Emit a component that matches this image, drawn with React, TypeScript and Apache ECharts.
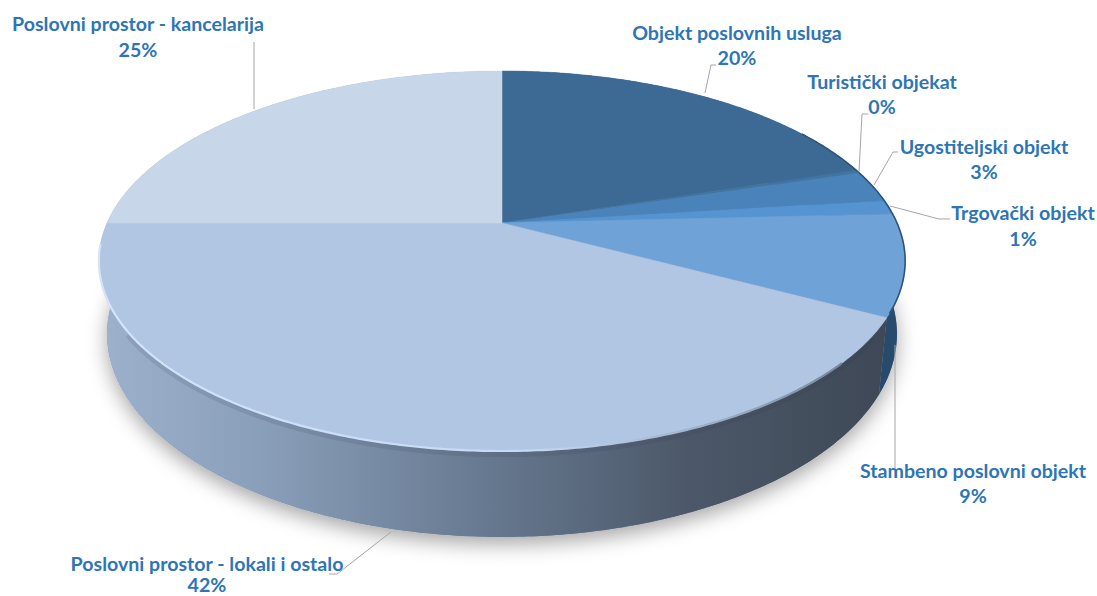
import React, { useEffect, useRef } from "react";
import * as echarts from "echarts";

const categories = [
  "Objekt poslovnih usluga",
  "Turistički objekat",
  "Ugostiteljski objekt",
  "Trgovački objekt",
  "Stambeno poslovni objekt",
  "Poslovni prostor - lokali i ostalo",
  "Poslovni prostor - kancelarija",
];
const shares = [20, 0.3, 2.7, 1.2, 8.6, 42.2, 25];
const faceColors = ["#3c6a94", "#41749f", "#4a83ba", "#5594d0", "#6fa3d7", "#b0c6e3", "#c8d6e9"];
const sideColors = ["#2b4c6c", "#2b4c6c", "#2b4c6c", "#2b4c6c", "#284a6c", "", "#8fa4c0"];

// label placement: centre of the name row, centre of the percentage row, and leader line
const nameCentres = [[737, 32], [882, 81], [984, 146], [1023, 212], [973, 470], [207, 563], [138, 23]];
const percentRows = [57, 106, 171, 238, 495, 584, 49];
const leaders = [
  [[716, 65], [711, 65], [705, 93]],
  [[868, 114], [862, 114], [859, 172]],
  [[898, 152], [893, 152], [874, 185]],
  [[950, 219], [939, 219], [890, 206]],
  [[895, 345], [895, 478]],
  [[329, 574], [337, 574], [391, 532]],
  [[254, 42], [254, 109]],
];

const total = shares.reduce((a, b) => a + b, 0);
const CX = 502, CY = 223, B = 395, A = 182.4, K = 0.2;
const BOTTOM_CY = 293.4, BOTTOM_B = 387, BOTTOM_A = 194.9;

function project(theta: number, bottom: boolean) {
  const s = Math.sin(theta), u = -Math.cos(theta);
  const d = 1 - K * u;
  return bottom
    ? [CX + (BOTTOM_B * s) / d, BOTTOM_CY + (BOTTOM_A * u) / d]
    : [CX + (B * s) / d, CY + (A * u) / d];
}
function arc(a0: number, a1: number, bottom: boolean) {
  const n = Math.max(2, Math.ceil(Math.abs(a1 - a0) / 0.01));
  const pts: number[][] = [];
  for (let i = 0; i <= n; i++) pts.push(project(a0 + ((a1 - a0) * i) / n, bottom));
  return pts;
}
function range(i: number) {
  let sum = 0;
  for (let j = 0; j < i; j++) sum += shares[j];
  return [(sum / total) * 2 * Math.PI, ((sum + shares[i]) / total) * 2 * Math.PI];
}
const sideGradient = () =>
  new echarts.graphic.LinearGradient(100, 0, 885, 0, [
    { offset: 0, color: "#9db1cd" },
    { offset: 0.2, color: "#8a9fba" },
    { offset: 0.5, color: "#66788f" },
    { offset: 0.75, color: "#4c5869" },
    { offset: 1, color: "#3e4856" },
  ], true);

export default function App() {
  const ref = useRef<HTMLDivElement>(null);
  useEffect(() => {
    const chart = echarts.init(ref.current!, undefined, { renderer: "svg" });
    const rows = shares.map((v, i) => ({ value: v, name: categories[i] }));
    const textStyle = { fill: "#2e75b6", font: "bold 19.6px Lato", align: "center", verticalAlign: "middle", lineHeight: 18 };
    chart.setOption({
      animation: false,
      backgroundColor: "#ffffff",
      series: [
        {
          type: "custom",
          coordinateSystem: "none",
          z: 1,
          silent: true,
          data: [0],
          renderItem: () => ({
            type: "polygon",
            shape: { points: arc(0, Math.PI * 2, true) },
            style: { fill: "#8a98ab", shadowBlur: 20, shadowOffsetY: 7, shadowColor: "rgba(0,0,0,0.35)" },
          }),
        },
        {
          type: "custom",
          coordinateSystem: "none",
          z: 2,
          silent: true,
          data: rows,
          renderItem: (params: any) => {
            const [a0, a1] = range(params.dataIndex);
            const pts = arc(a0, a1, false).concat(arc(a0, a1, true).reverse());
            return {
              type: "polygon",
              shape: { points: pts },
              style: { fill: sideColors[params.dataIndex] || sideGradient() },
            };
          },
        },
        {
          type: "custom",
          coordinateSystem: "none",
          z: 3,
          silent: true,
          data: [0],
          renderItem: () => ({
            type: "polyline",
            shape: { points: arc(2.15, 4.15, false).map((p) => [p[0], p[1] + 3]) },
            style: { fill: "none", stroke: "rgba(45,55,75,0.13)", lineWidth: 6 },
          }),
        },
        {
          type: "custom",
          coordinateSystem: "none",
          z: 4,
          silent: true,
          data: rows,
          renderItem: (params: any) => {
            const [a0, a1] = range(params.dataIndex);
            return {
              type: "polygon",
              shape: { points: [[CX, CY]].concat(arc(a0, a1, false)) },
              style: { fill: faceColors[params.dataIndex], stroke: faceColors[params.dataIndex], lineWidth: 0.5 },
            };
          },
        },
        {
          type: "custom",
          coordinateSystem: "none",
          z: 5,
          silent: true,
          data: [0],
          renderItem: () => ({
            type: "group",
            children: [
              {
                type: "polyline",
                shape: { points: arc(2.3, 4.6, false) },
                style: {
                  fill: "none",
                  lineWidth: 2.2,
                  stroke: new echarts.graphic.LinearGradient(100, 0, 880, 0, [
                    { offset: 0, color: "#d3e4fb" },
                    { offset: 0.55, color: "#c8daf3" },
                    { offset: 0.8, color: "#9aabc2" },
                    { offset: 1, color: "#6d7c90" },
                  ], true),
                },
              },
              {
                type: "polyline",
                shape: { points: arc(1.0, 2.04, false) },
                style: { fill: "none", lineWidth: 1.6, stroke: "#2f5479" },
              },
            ],
          }),
        },
      ],
      graphic: [
        ...leaders.map((pts) => ({
          type: "polyline",
          z: 20,
          silent: true,
          shape: { points: pts },
          style: { fill: "none", stroke: "#a6a6a6", lineWidth: 1 },
        })),
        ...categories.map((name, i) => ({
          type: "text",
          z: 30,
          silent: true,
          x: nameCentres[i][0],
          y: nameCentres[i][1],
          style: { ...textStyle, text: name },
        })),
        ...categories.map((_, i) => ({
          type: "text",
          z: 30,
          silent: true,
          x: nameCentres[i][0],
          y: percentRows[i],
          style: { ...textStyle, text: `${Math.round((shares[i] / total) * 100)}%` },
        })),
      ],
    });
    return () => chart.dispose();
  }, []);
  return <div ref={ref} style={{ position: "fixed", left: 0, top: 0, width: 1097, height: 596 }} />;
}
